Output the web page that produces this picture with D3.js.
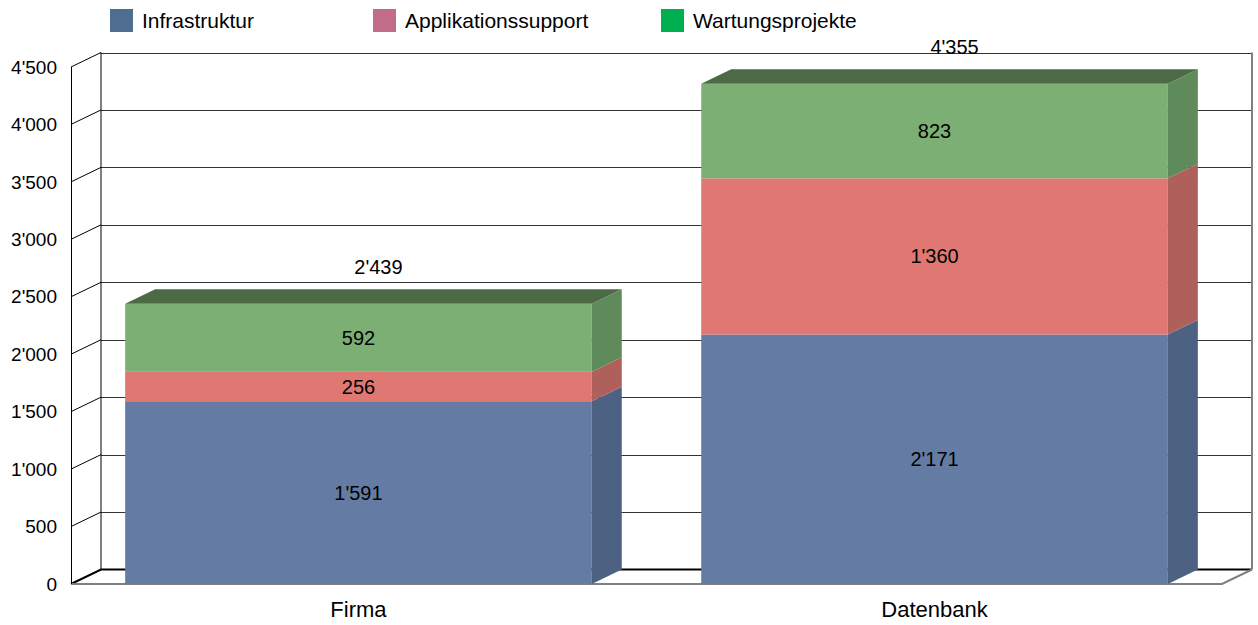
<!DOCTYPE html>
<meta charset="utf-8">
<style>
body { margin: 0; background: #fff; font-family: "Liberation Sans", Arial, sans-serif; }
text { fill: #000; }
</style>
<body>
<div id="chart"></div>
<script src="https://cdn.jsdelivr.net/npm/d3@7"></script>
<script>

// data
var categories = ["Firma", "Datenbank"];
var seriesNames = ["Infrastruktur", "Applikationssupport", "Wartungsprojekte"];
var infrastruktur = [1591, 2171];
var applikationssupport = [256, 1360];
var wartungsprojekte = [592, 823];
var totals = [2439, 4355];
var yTicks = [0, 500, 1000, 1500, 2000, 2500, 3000, 3500, 4000, 4500];

var width = 1258, height = 625;
var dx = 30, dy = -14.5;   // depth of the 3d box

var frontColors = ["#647ca3", "#df7873", "#7caf73"];
var sideColors = ["#4d6283", "#b0605b", "#5f8a59"];
var topColor = "#4b6a45";
var legendColors = ["#4e6d90", "#c26c8a", "#00b050"];

var svg = d3.select("#chart").append("svg")
    .attr("width", width)
    .attr("height", height);

var x = d3.scaleBand().domain(categories).range([71, 1222])
    .paddingInner(0.19).paddingOuter(0.094);
var y = d3.scaleLinear().domain([0, 4500]).range([584, 67]);

var fmt = function(v) { return d3.format(",")(v).replace(/,/g, "'"); };

var x0 = 71, x1 = 1222;

// floor
svg.append("path")
    .attr("d", "M" + x0 + "," + y(0) + "L" + (x0 + dx) + "," + (y(0) + dy) +
         "L" + (x1 + dx) + "," + (y(0) + dy))
    .attr("fill", "none").attr("stroke", "#000").attr("stroke-width", 2);
svg.append("path")
    .attr("d", "M" + x0 + "," + y(0) + "L" + x1 + "," + y(0) + "L" + (x1 + dx) + "," + (y(0) + dy))
    .attr("fill", "none").attr("stroke", "#808080").attr("stroke-width", 2);

// grid on back wall and left wall
var grid = svg.append("g");
grid.selectAll(".bk").data(yTicks.slice(1)).enter().append("line")
    .attr("x1", x0 + dx).attr("x2", x1 + dx)
    .attr("y1", function(d) { return Math.round(y(d) + dy) + 0.5; })
    .attr("y2", function(d) { return Math.round(y(d) + dy) + 0.5; })
    .attr("stroke", "#333");
grid.selectAll(".lf").data(yTicks.slice(1)).enter().append("line")
    .attr("x1", x0).attr("x2", x0 + dx)
    .attr("y1", function(d) { return y(d); })
    .attr("y2", function(d) { return y(d) + dy; })
    .attr("stroke", "#000");
grid.append("line").attr("x1", x0 + dx).attr("x2", x0 + dx)
    .attr("y1", y(4500) + dy).attr("y2", y(0) + dy).attr("stroke", "#000");
grid.append("line").attr("x1", x0 + 0.5).attr("x2", x0 + 0.5)
    .attr("y1", y(4500)).attr("y2", y(0)).attr("stroke", "#000");
grid.append("line").attr("x1", x1 + dx).attr("x2", x1 + dx)
    .attr("y1", y(4500) + dy).attr("y2", y(0) + dy)
    .attr("stroke", "#808080").attr("stroke-width", 2);

// y tick labels
svg.append("g").selectAll("text").data(yTicks).enter().append("text")
    .attr("x", 57).attr("y", function(d) { return y(d); })
    .attr("dy", "0.35em")
    .attr("text-anchor", "end")
    .style("font-size", "19px")
    .text(fmt);

// stacked bars
var series = [infrastruktur, applikationssupport, wartungsprojekte];
var bars = svg.append("g");
categories.forEach(function(cat, i) {
  var left = x(cat), right = x(cat) + x.bandwidth();
  var base = 0;
  series.forEach(function(s, k) {
    var yb = y(base), yt = y(base + s[i]);
    bars.append("rect")
        .attr("x", left).attr("y", yt)
        .attr("width", right - left).attr("height", yb - yt)
        .attr("fill", frontColors[k]);
    bars.append("path")
        .attr("d", "M" + right + "," + yb + "L" + right + "," + yt +
             "L" + (right + dx) + "," + (yt + dy) + "L" + (right + dx) + "," + (yb + dy) + "Z")
        .attr("fill", sideColors[k]);
    bars.append("text")
        .attr("x", (left + right) / 2).attr("y", (yb + yt) / 2)
        .attr("dy", "0.35em").attr("text-anchor", "middle")
        .style("font-size", "20px")
        .text(fmt(s[i]));
    base += s[i];
  });
  var top = y(base);
  bars.append("path")
      .attr("d", "M" + left + "," + top + "L" + right + "," + top +
           "L" + (right + dx) + "," + (top + dy) + "L" + (left + dx) + "," + (top + dy) + "Z")
      .attr("fill", topColor);
  bars.append("text")
      .attr("x", (left + right) / 2 + 20).attr("y", top + dy - 15)
      .attr("text-anchor", "middle")
      .style("font-size", "20px")
      .text(fmt(totals[i]));
  // category label
  svg.append("text")
      .attr("x", (left + right) / 2).attr("y", 617)
      .attr("text-anchor", "middle")
      .style("font-size", "22px")
      .text(cat);
});

// legend
var legendX = [110, 373, 661];
var legend = svg.append("g").selectAll("g").data(seriesNames).enter().append("g")
    .attr("transform", function(d, i) { return "translate(" + legendX[i] + ",9)"; });
legend.append("rect").attr("width", 23).attr("height", 23)
    .attr("fill", function(d, i) { return legendColors[i]; });
legend.append("text").attr("x", 32).attr("y", 12).attr("dy", "0.35em")
    .style("font-size", "21px")
    .text(function(d) { return d; });

</script>
</body>
